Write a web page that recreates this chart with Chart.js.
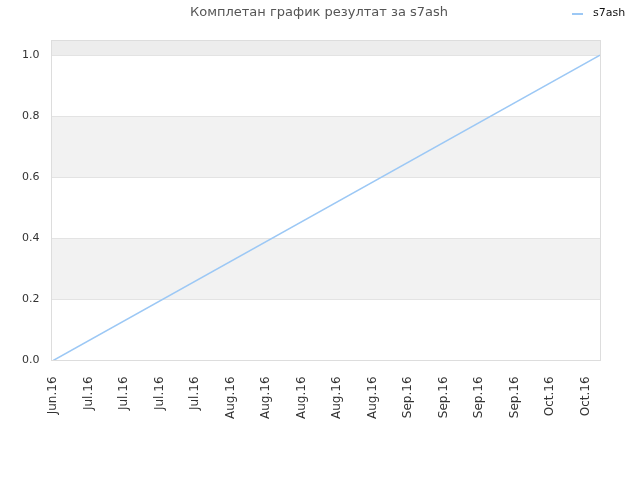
<!DOCTYPE html>
<html>
<head>
<meta charset="utf-8">
<script src="https://cdn.jsdelivr.net/npm/chart.js@4"></script>
<style>
  html, body { margin: 0; padding: 0; background: #fff; }
  #wrap { width: 640px; height: 480px; position: relative; }
</style>
</head>
<body>
<div id="wrap"><canvas id="c" width="640" height="480"></canvas></div>
<script>
const chartTitle = "Комплетан график резултат за s7ash";
const seriesName = "s7ash";
const tickLabels = ["Jun.16","Jul.16","Jul.16","Jul.16","Jul.16","Aug.16","Aug.16","Aug.16","Aug.16","Aug.16","Sep.16","Sep.16","Sep.16","Sep.16","Oct.16","Oct.16"];
const xValues = [0, 15.4];
const yValues = [0, 1];

const FONT = "'DejaVu Sans', sans-serif";
const LINE_COLOR = '#9cc8f5';

const bandsPlugin = {
  id: 'bands',
  beforeDraw(chart) {
    const ctx = chart.ctx;
    ctx.save();
    ctx.fillStyle = '#ffffff';
    ctx.fillRect(0, 0, chart.width, chart.height);
    const a = chart.chartArea;
    const y = chart.scales.y;
    const bands = [[0.2, 0.4, '#f2f2f2'], [0.6, 0.8, '#f2f2f2'], [1.0, 1.2, '#ededed']];
    ctx.beginPath();
    ctx.rect(a.left, a.top, a.right - a.left, a.bottom - a.top);
    ctx.clip();
    for (const [lo, hi, col] of bands) {
      const y1 = y.getPixelForValue(hi), y2 = y.getPixelForValue(lo);
      ctx.fillStyle = col;
      ctx.fillRect(a.left, y1, a.right - a.left, y2 - y1);
    }
    ctx.restore();
  },
  afterDraw(chart) {
    const ctx = chart.ctx;
    const a = chart.chartArea;
    ctx.save();
    ctx.strokeStyle = '#dddddd';
    ctx.lineWidth = 1;
    ctx.strokeRect(Math.round(a.left) + 0.5, Math.round(a.top) + 0.5, Math.round(a.right - a.left), Math.round(a.bottom - a.top));
    // title
    ctx.fillStyle = '#555555';
    ctx.font = "13px " + FONT;
    ctx.textAlign = 'center';
    ctx.textBaseline = 'middle';
    ctx.fillText(chartTitle, 319, 13);
    // legend
    const ds = chart.data.datasets[0];
    ctx.strokeStyle = ds.borderColor;
    ctx.lineWidth = 2;
    ctx.beginPath();
    ctx.moveTo(572, 14);
    ctx.lineTo(583, 14);
    ctx.stroke();
    ctx.fillStyle = '#111111';
    ctx.font = "11px " + FONT;
    ctx.textAlign = 'left';
    ctx.fillText(ds.label, 593, 13);
    ctx.restore();
  }
};

new Chart(document.getElementById('c'), {
  type: 'line',
  data: {
    datasets: [{
      label: seriesName,
      data: xValues.map((x, i) => ({ x: x, y: yValues[i] })),
      borderColor: LINE_COLOR,
      backgroundColor: LINE_COLOR,
      borderWidth: 1.5,
      pointRadius: 0,
      fill: false,
      tension: 0
    }]
  },
  options: {
    responsive: false,
    animation: false,
    devicePixelRatio: 1,
    layout: { padding: { left: 10, right: 40, top: 40, bottom: 53 } },
    plugins: {
      title: { display: false },
      tooltip: { enabled: false },
      legend: { display: false }
    },
    scales: {
      x: {
        type: 'linear',
        min: -0.05,
        max: 15.4,
        grid: { display: false },
        border: { display: true, color: '#dddddd' },
        ticks: {
          stepSize: 1,
          includeBounds: false,
          autoSkip: false,
          maxRotation: 90,
          minRotation: 90,
          padding: 8,
          color: '#333',
          font: { family: FONT, size: 12 },
          callback: (v) => (Number.isInteger(v) && tickLabels[v] !== undefined) ? tickLabels[v] : null
        }
      },
      y: {
        min: 0,
        max: 1.05,
        grid: { color: '#e3e3e3', drawTicks: false },
        border: { display: true, color: '#dddddd' },
        ticks: {
          stepSize: 0.2,
          includeBounds: false,
          padding: 12,
          color: '#333',
          font: { family: FONT, size: 11 },
          callback: (v) => v.toFixed(1)
        }
      }
    }
  },
  plugins: [bandsPlugin]
});
</script>
</body>
</html>
